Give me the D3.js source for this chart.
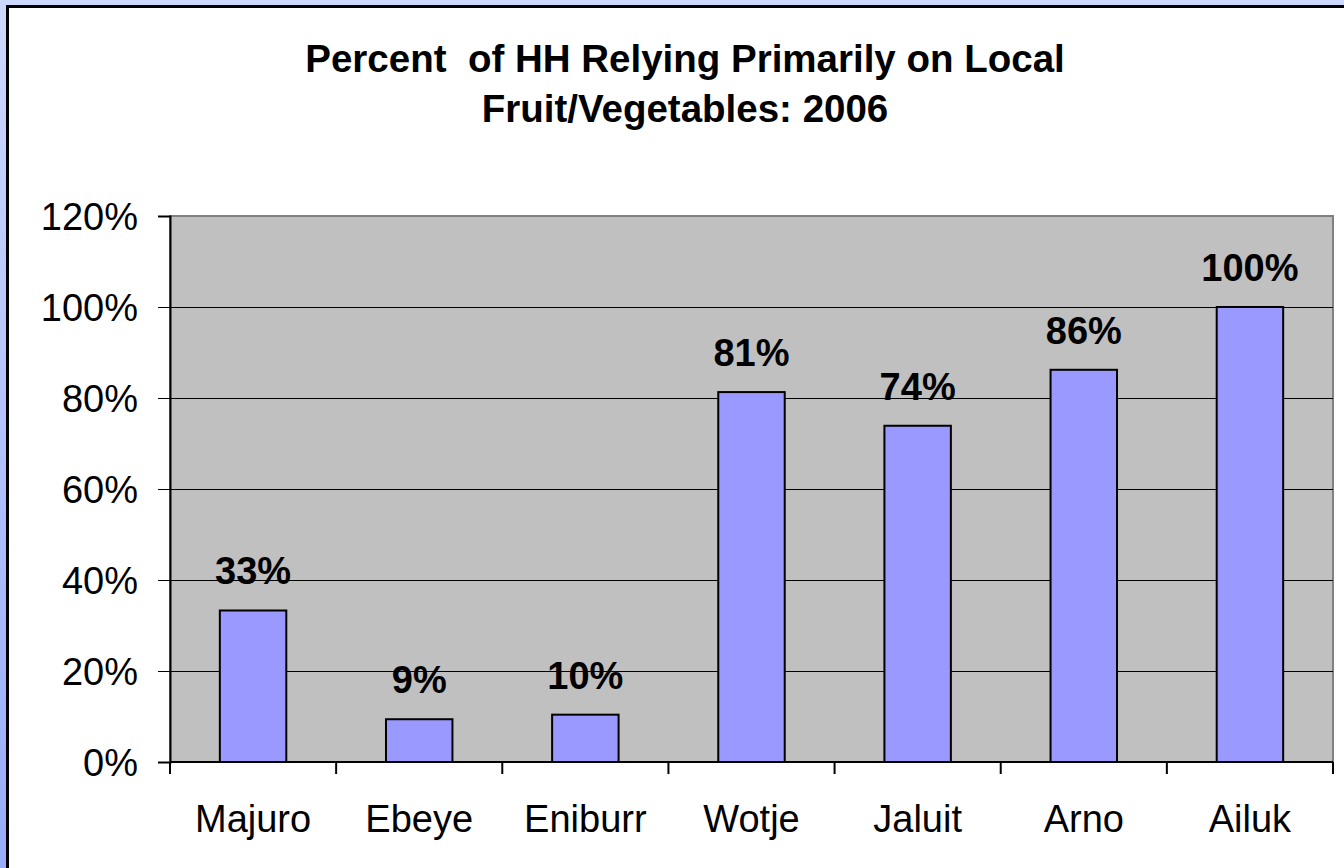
<!DOCTYPE html>
<html lang="en">
<head>
    <meta charset="UTF-8">
    <title>Percent of HH Relying Primarily on Local Fruit/Vegetables: 2006</title>
    <script src="https://d3js.org/d3.v7.min.js"></script>
    <style>
        html, body {
            margin: 0;
            padding: 0;
            overflow: hidden;
        }
        svg {
            display: block;
            font-family: "Liberation Sans", Arial, sans-serif;
        }
    </style>
</head>
<body>
<svg width="1344" height="868"></svg>
<script>
    const atolls = ["Majuro", "Ebeye", "Eniburr", "Wotje", "Jaluit", "Arno", "Ailuk"];
    const shares = [33.3, 9.4, 10.4, 81.3, 73.9, 86.2, 100];
    const yTicks = [0, 20, 40, 60, 80, 100, 120];
    const titleLines = ["Percent  of HH Relying Primarily on Local", "Fruit/Vegetables: 2006"];

    const svg = d3.select("svg");

    // bluish backdrop
    const defs = svg.append("defs");
    const grad = defs.append("linearGradient")
        .attr("id", "bg")
        .attr("x1", 0).attr("y1", 0).attr("x2", 0).attr("y2", 1);
    grad.append("stop").attr("offset", "0%").attr("stop-color", "#ccd8fd");
    grad.append("stop").attr("offset", "100%").attr("stop-color", "#98acf8");

    svg.append("rect")
        .attr("width", 1344).attr("height", 868)
        .attr("fill", "url(#bg)");

    // chart frame (runs off the right/bottom edge)
    svg.append("rect")
        .attr("x", 7.5).attr("y", 6.5)
        .attr("width", 1400).attr("height", 900)
        .attr("fill", "white")
        .attr("stroke", "black")
        .attr("stroke-width", 3);

    const plot = {left: 170, top: 216, right: 1333, bottom: 762};

    const x = d3.scaleBand()
        .domain(atolls)
        .range([plot.left, plot.right])
        .paddingInner(0.6)
        .paddingOuter(0.3);

    const y = d3.scaleLinear()
        .domain([0, 120])
        .range([plot.bottom, plot.top]);

    // gray plot area
    svg.append("rect")
        .attr("x", plot.left).attr("y", plot.top)
        .attr("width", plot.right - plot.left)
        .attr("height", plot.bottom - plot.top)
        .attr("fill", "#c0c0c0")
        .attr("stroke", "#808080")
        .attr("stroke-width", 2);

    // gridlines
    svg.append("g")
        .selectAll("line")
        .data(yTicks.filter(d => d > 0 && d < 120))
        .join("line")
        .attr("x1", plot.left).attr("x2", plot.right)
        .attr("y1", d => Math.round(y(d)) + 0.5)
        .attr("y2", d => Math.round(y(d)) + 0.5)
        .attr("stroke", "black")
        .attr("stroke-width", 1);

    // bars
    svg.append("g")
        .selectAll("rect")
        .data(atolls)
        .join("rect")
        .attr("x", d => x(d))
        .attr("y", (d, i) => y(shares[i]))
        .attr("width", x.bandwidth())
        .attr("height", (d, i) => y(0) - y(shares[i]))
        .attr("fill", "#9999ff")
        .attr("stroke", "black")
        .attr("stroke-width", 2);

    // value labels
    svg.append("g")
        .selectAll("text")
        .data(atolls)
        .join("text")
        .attr("x", d => x(d) + x.bandwidth() / 2)
        .attr("y", (d, i) => y(shares[i]) - 26)
        .attr("text-anchor", "middle")
        .attr("font-size", 38)
        .attr("font-weight", "bold")
        .attr("fill", "black")
        .text((d, i) => Math.round(shares[i]) + "%");

    // y axis
    const yAxis = svg.append("g")
        .attr("transform", `translate(${plot.left},0)`)
        .call(d3.axisLeft(y)
            .tickValues(yTicks)
            .tickSize(12)
            .tickPadding(20)
            .tickFormat(d => d + "%"));
    yAxis.select(".domain").attr("stroke", "black").attr("stroke-width", 2);
    yAxis.selectAll(".tick line").attr("stroke", "black");
    yAxis.selectAll("text")
        .attr("font-size", 38)
        .attr("font-family", "Liberation Sans, Arial, sans-serif")
        .attr("fill", "black")
        .attr("dy", "0.36em");

    // x axis baseline and boundary ticks
    const step = x.step();
    const boundaries = d3.range(atolls.length + 1).map(i => plot.left + i * step);
    svg.append("line")
        .attr("x1", plot.left).attr("x2", plot.right)
        .attr("y1", plot.bottom).attr("y2", plot.bottom)
        .attr("stroke", "black").attr("stroke-width", 2);
    svg.append("g")
        .selectAll("line")
        .data(boundaries)
        .join("line")
        .attr("x1", d => d).attr("x2", d => d)
        .attr("y1", plot.bottom).attr("y2", plot.bottom + 12)
        .attr("stroke", "black").attr("stroke-width", 2);

    svg.append("g")
        .selectAll("text")
        .data(atolls)
        .join("text")
        .attr("x", d => x(d) + x.bandwidth() / 2)
        .attr("y", 832)
        .attr("text-anchor", "middle")
        .attr("font-size", 38)
        .attr("fill", "black")
        .text(d => d);

    // title
    svg.append("g")
        .selectAll("text")
        .data(titleLines)
        .join("text")
        .attr("x", 685)
        .attr("y", (d, i) => 72 + i * 50)
        .attr("text-anchor", "middle")
        .attr("font-size", 38.5)
        .attr("font-weight", "bold")
        .attr("fill", "black")
        .attr("xml:space", "preserve")
        .style("white-space", "pre")
        .text(d => d);
</script>
</body>
</html>
